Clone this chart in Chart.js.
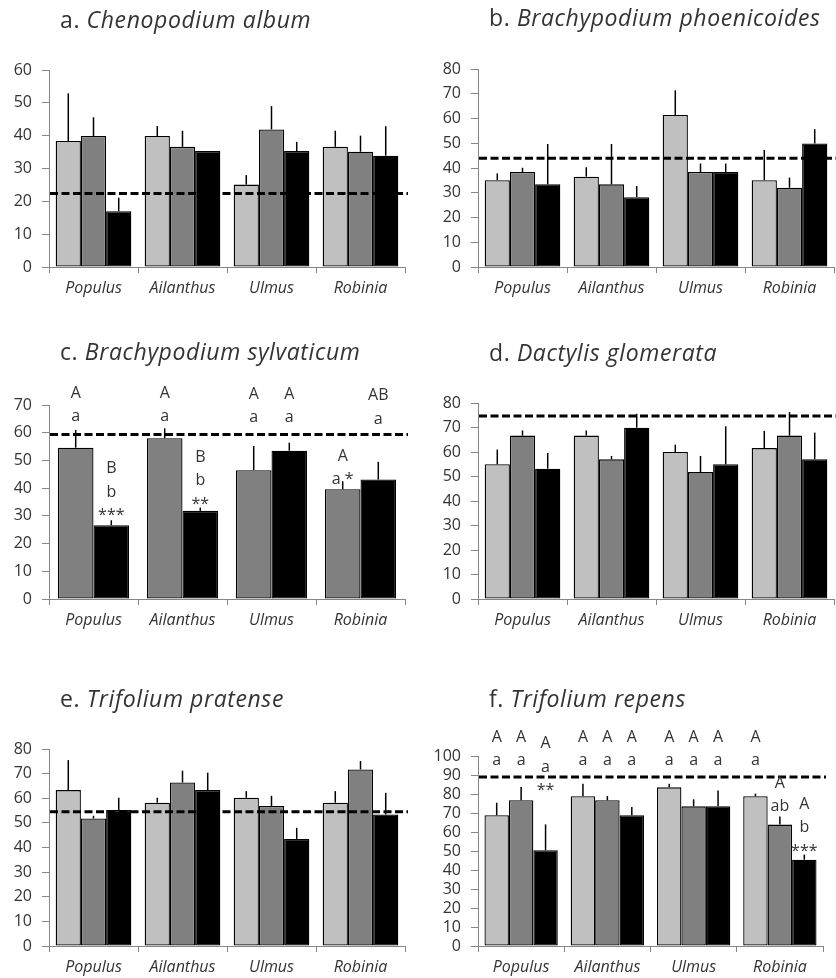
<!DOCTYPE html>
<html>
<head>
<meta charset="utf-8">
<script src="https://cdn.jsdelivr.net/npm/chart.js@4.4.0/dist/chart.umd.min.js"></script>
<style>
body { margin: 0; background: #fff; width: 836px; height: 978px; position: relative; overflow: hidden; }
canvas { position: absolute; }
</style>
</head>
<body>
<canvas id="pa"></canvas>
<canvas id="pb"></canvas>
<canvas id="pc"></canvas>
<canvas id="pd"></canvas>
<canvas id="pe"></canvas>
<canvas id="pf"></canvas>
<script>
// tree species (x categories)
var categories = ['Populus', 'Ailanthus', 'Ulmus', 'Robinia'];

// a. Chenopodium album
var aLight = [38.4, 39.9, 25.1, 36.6], aLightErr = [14.5, 3.0, 2.9, 4.9];
var aDark  = [39.9, 36.6, 41.9, 35.1], aDarkErr  = [5.7, 4.9, 7.1, 4.9];
var aBlack = [17.0, 35.3, 35.3, 33.9], aBlackErr = [4.1, 0, 2.8, 9.0];
var aRef = 22.4;

// b. Brachypodium phoenicoides
var bLight = [35.1, 36.5, 61.4, 35.1], bLightErr = [2.7, 3.8, 10.0, 12.2];
var bDark  = [38.4, 33.4, 38.4, 32.0], bDarkErr  = [1.7, 16.3, 3.4, 4.1];
var bBlack = [33.4, 28.2, 38.4, 49.9], bBlackErr = [16.3, 4.5, 3.4, 5.8];
var bRef = 43.9;

// c. Brachypodium sylvaticum (no light series)
var cDark  = [54.6, 58.0, 46.5, 39.6], cDarkErr  = [6.4, 3.6, 8.7, 2.9];
var cBlack = [26.6, 31.8, 53.5, 43.1], cBlackErr = [1.8, 1.2, 2.9, 6.4];
var cRef = 59.4;

// d. Dactylis glomerata
var dLight = [55.0, 66.7, 60.0, 61.6], dLightErr = [6.0, 2.1, 3.0, 7.0];
var dDark  = [66.7, 57.0, 51.8, 66.7], dDarkErr  = [2.1, 1.4, 6.6, 9.6];
var dBlack = [53.2, 69.9, 55.0, 57.0], dBlackErr = [6.4, 5.7, 15.5, 10.9];
var dRef = 74.7;

// e. Trifolium pratense
var eLight = [63.3, 58.2, 60.2, 58.2], eLightErr = [12.2, 2.0, 2.7, 4.7];
var eDark  = [51.8, 66.4, 56.9, 71.7], eDarkErr  = [1.1, 4.8, 4.1, 3.4];
var eBlack = [55.2, 63.3, 43.5, 53.4], eBlackErr = [5.0, 7.1, 4.5, 8.8];
var eRef = 54.5;

// f. Trifolium repens
var fLight = [68.8, 78.8, 83.5, 78.8], fLightErr = [6.6, 6.6, 1.9, 1.4];
var fDark  = [76.7, 76.7, 73.5, 63.9], fDarkErr  = [7.0, 2.2, 3.7, 4.3];
var fBlack = [50.4, 68.8, 73.5, 45.4], fBlackErr = [13.6, 4.4, 8.4, 2.7];
var fRef = 88.9;

// letters: [category, series, lines, value of first line]
var cLetters = [
  [0, 0, ['A', 'a'], 74.2], [0, 1, ['B', 'b', '***'], 47.1],
  [1, 0, ['A', 'a'], 74.2], [1, 1, ['B', 'b', '**'], 51.1],
  [2, 0, ['A', 'a'], 73.9], [2, 1, ['A', 'a'], 73.9],
  [3, 0, ['A', 'a *'], 51.6], [3, 1, ['AB', 'a'], 73.3]
];
var fLetters = [
  [0, 0, ['A', 'a'], 110], [0, 1, ['A', 'a'], 110], [0, 2, ['A', 'a', '**'], 106.5],
  [1, 0, ['A', 'a'], 110], [1, 1, ['A', 'a'], 110], [1, 2, ['A', 'a'], 110],
  [2, 0, ['A', 'a'], 110], [2, 1, ['A', 'a'], 110], [2, 2, ['A', 'a'], 110],
  [3, 0, ['A', 'a'], 110], [3, 1, ['A', 'ab'], 85.8], [3, 2, ['A', 'b', '***'], 74.6]
];

var LIGHT = '#c0c0c0', DARK = '#808080', BLACK = '#000000';
var AXIS = '#868686', TEXT = '#333333';
var FONT = "'Open Sans', sans-serif";

var panels = [
  { id: 'pa', tag: 'a.', name: 'Chenopodium album', series: [aLight, aDark, aBlack], errs: [aLightErr, aDarkErr, aBlackErr], colors: [LIGHT, DARK, BLACK], ref: aRef, max: 60, letters: [] },
  { id: 'pb', tag: 'b.', name: 'Brachypodium phoenicoides', series: [bLight, bDark, bBlack], errs: [bLightErr, bDarkErr, bBlackErr], colors: [LIGHT, DARK, BLACK], ref: bRef, max: 80, letters: [] },
  { id: 'pc', tag: 'c.', name: 'Brachypodium sylvaticum', series: [cDark, cBlack], errs: [cDarkErr, cBlackErr], colors: [DARK, BLACK], ref: cRef, max: 70, letters: cLetters },
  { id: 'pd', tag: 'd.', name: 'Dactylis glomerata', series: [dLight, dDark, dBlack], errs: [dLightErr, dDarkErr, dBlackErr], colors: [LIGHT, DARK, BLACK], ref: dRef, max: 80, letters: [] },
  { id: 'pe', tag: 'e.', name: 'Trifolium pratense', series: [eLight, eDark, eBlack], errs: [eLightErr, eDarkErr, eBlackErr], colors: [LIGHT, DARK, BLACK], ref: eRef, max: 80, letters: [] },
  { id: 'pf', tag: 'f.', name: 'Trifolium repens', series: [fLight, fDark, fBlack], errs: [fLightErr, fDarkErr, fBlackErr], colors: [LIGHT, DARK, BLACK], ref: fRef, max: 100, letters: fLetters }
];

// page boxes: canvas x0,y0,w,h and plot edges, title baseline (page pixels)
var boxes = [
  { x0: 0,   y0: 0,   w: 418, h: 320, left: 49,  right: 405, top: 70,  bottom: 267, titleY: 28 },
  { x0: 418, y0: 0,   w: 418, h: 320, left: 478, right: 834, top: 69,  bottom: 267, titleY: 26 },
  { x0: 0,   y0: 320, w: 418, h: 330, left: 49,  right: 405, top: 405, bottom: 599, titleY: 360 },
  { x0: 418, y0: 320, w: 418, h: 330, left: 478, right: 834, top: 403, bottom: 599, titleY: 361 },
  { x0: 0,   y0: 650, w: 418, h: 328, left: 49,  right: 405, top: 749, bottom: 946, titleY: 707 },
  { x0: 418, y0: 650, w: 418, h: 328, left: 478, right: 823, top: 756, bottom: 946, titleY: 707 }
];

Chart.defaults.font.family = FONT;
Chart.defaults.color = TEXT;

function makeChart(p, b) {
  var cv = document.getElementById(p.id);
  cv.width = b.w; cv.height = b.h;
  cv.style.left = b.x0 + 'px'; cv.style.top = b.y0 + 'px';
  var xAxisH = 30;

  var datasets = p.series.map(function (s, i) {
    return {
      data: s, backgroundColor: p.colors[i], borderColor: '#000', borderWidth: 1.3,
      borderSkipped: false, barPercentage: 1, categoryPercentage: p.series.length == 2 ? 0.8 : 0.85
    };
  });

  var extras = {
    id: 'extras',
    afterDatasetsDraw: function (chart) {
      var ctx = chart.ctx, y = chart.scales.y, area = chart.chartArea;
      ctx.save();
      // error bars (upper only)
      ctx.strokeStyle = '#000'; ctx.lineWidth = 1.5;
      p.errs.forEach(function (err, i) {
        chart.getDatasetMeta(i).data.forEach(function (bar, j) {
          if (!err[j]) return;
          ctx.beginPath();
          ctx.moveTo(bar.x, y.getPixelForValue(p.series[i][j]));
          ctx.lineTo(bar.x, y.getPixelForValue(p.series[i][j] + err[j]));
          ctx.stroke();
        });
      });
      // reference line
      var ry = y.getPixelForValue(p.ref);
      ctx.setLineDash([8, 3.5]); ctx.lineWidth = 3;
      ctx.beginPath(); ctx.moveTo(area.left + 1, ry); ctx.lineTo(area.right + 3, ry); ctx.stroke();
      ctx.setLineDash([]);
      // significance letters
      ctx.fillStyle = TEXT; ctx.textAlign = 'center'; ctx.textBaseline = 'middle';
      ctx.font = '16px ' + FONT;
      p.letters.forEach(function (l) {
        var bar = chart.getDatasetMeta(l[1]).data[l[0]];
        var ty = y.getPixelForValue(l[3]);
        l[2].forEach(function (txt, k) { ctx.fillText(txt, bar.x, ty + k * 23.5); });
      });
      // panel title
      ctx.textAlign = 'left'; ctx.textBaseline = 'alphabetic';
      ctx.letterSpacing = '0.6px';
      var tx = area.left + 11, tyT = b.titleY - b.y0;
      ctx.font = '23px ' + FONT;
      ctx.fillText(p.tag + ' ', tx, tyT);
      var w = ctx.measureText(p.tag + ' ').width;
      ctx.font = 'italic 23px ' + FONT;
      ctx.fillText(p.name, tx + w, tyT);
      ctx.restore();
    }
  };

  new Chart(cv, {
    type: 'bar',
    data: { labels: categories, datasets: datasets },
    options: {
      responsive: false, animation: false, devicePixelRatio: 1,
      layout: { padding: { top: b.top - b.y0, bottom: b.y0 + b.h - b.bottom - xAxisH, left: 0, right: b.x0 + b.w - b.right } },
      plugins: { legend: { display: false }, tooltip: { enabled: false }, title: { display: false } },
      scales: {
        x: {
          grid: { drawOnChartArea: false, drawTicks: true, tickLength: 6, color: AXIS, offset: true },
          border: { color: AXIS },
          ticks: { font: { size: 16, style: 'italic' }, padding: 6, color: TEXT, maxRotation: 0 },
          afterFit: function (s) { s.height = xAxisH; }
        },
        y: {
          min: 0, max: p.max,
          grid: { drawOnChartArea: false, tickLength: 7, color: AXIS },
          border: { color: AXIS },
          ticks: { stepSize: 10, autoSkip: false, font: { size: 16 }, padding: 10, color: TEXT },
          afterFit: function (s) { s.width = b.left - b.x0; }
        }
      }
    },
    plugins: [extras]
  });
}

panels.forEach(function (p, i) { makeChart(p, boxes[i]); });
</script>
</body>
</html>
